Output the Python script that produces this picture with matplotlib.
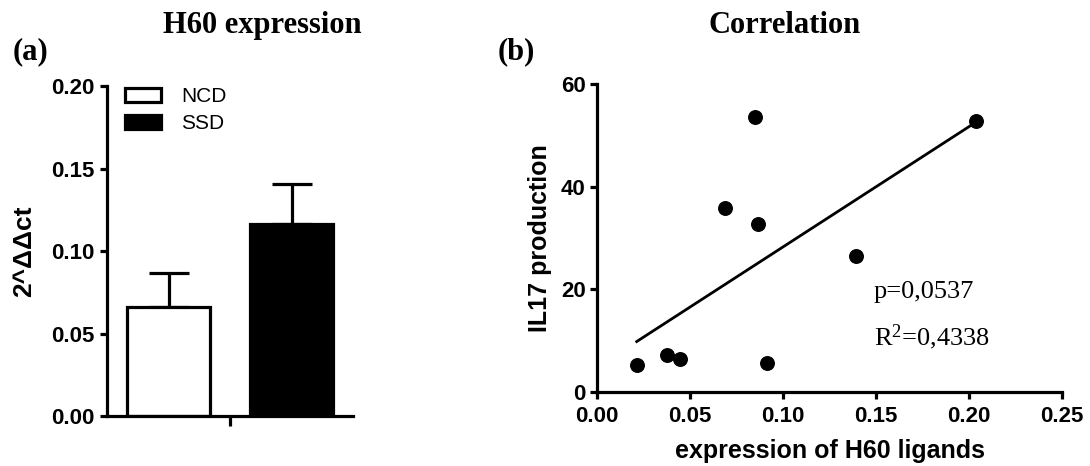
import numpy as np
import matplotlib
matplotlib.use('Agg')
import matplotlib.pyplot as plt
from matplotlib.patches import Patch

# ---- data ----
groups = ['NCD', 'SSD']
group_means = [0.066, 0.1164]
group_sem = [0.0207, 0.0242]
group_colors = ['white', 'black']

h60_expr = [0.0215, 0.0376, 0.0450, 0.0916, 0.0692, 0.0864, 0.0849, 0.1394, 0.2036]
il17_prod = [5.3, 7.3, 6.4, 5.6, 35.8, 32.7, 53.6, 26.4, 52.7]

left_yticks = [0.00, 0.05, 0.10, 0.15, 0.20]
right_xticks = [0.00, 0.05, 0.10, 0.15, 0.20, 0.25]
right_yticks = [0, 20, 40, 60]

plt.rcParams['font.family'] = ['Liberation Sans', 'DejaVu Sans']
plt.rcParams['mathtext.fontset'] = 'custom'
plt.rcParams['mathtext.rm'] = 'Liberation Serif'
plt.rcParams['mathtext.it'] = 'Liberation Serif:italic'

W, H = 1090, 466
fig = plt.figure(figsize=(W / 100, H / 100), dpi=100)


def frac(x0, y0, x1, y1):
    return [x0 / W, 1 - y1 / H, (x1 - x0) / W, (y1 - y0) / H]


LW = 2.3

def style(ax):
    for s in ['top', 'right']:
        ax.spines[s].set_visible(False)
    for s in ['left', 'bottom']:
        ax.spines[s].set_linewidth(LW)
    ax.tick_params(direction='out', length=5, width=LW, labelsize=16)
    for lab in ax.get_xticklabels() + ax.get_yticklabels():
        lab.set_fontweight('bold')

# ---- left panel ----
ax1 = fig.add_axes(frac(107, 86, 353, 416))
pos = np.arange(len(groups))
bars = ax1.bar(pos, group_means, width=0.67, color=group_colors,
               edgecolor='black', linewidth=LW, zorder=2)
ax1.errorbar(pos, group_means, yerr=[[0, 0], group_sem], fmt='none',
             ecolor='black', elinewidth=LW, capsize=14.5, capthick=LW, zorder=1)
ax1.set_xlim(-0.5, 1.5)
ax1.set_ylim(0, 0.2)
ax1.set_yticks(left_yticks)
ax1.set_yticklabels([f'{v:.2f}' for v in left_yticks])
ax1.set_xticks([0.5])
ax1.set_xticklabels([''])
style(ax1)
ax1.tick_params(axis='x', length=7)
ax1.tick_params(axis='y', pad=4)

handles = [Patch(facecolor=c, edgecolor='black', linewidth=LW, label=g)
           for g, c in zip(groups, group_colors)]
ax1.legend(handles=handles, loc='upper left', bbox_to_anchor=(0.073, 0.996),
           frameon=False, borderpad=0, borderaxespad=0, fontsize=15,
           handlelength=1.75, handleheight=0.68, handletextpad=0.95,
           labelspacing=0.37)

# ---- right panel ----
ax2 = fig.add_axes(frac(596.7, 84, 1062, 392))
ax2.scatter(h60_expr, il17_prod, s=95, color='black', zorder=3)
slope, intercept = np.polyfit(h60_expr, il17_prod, 1)
xl = np.array([min(h60_expr), max(h60_expr)])
ax2.plot(xl, slope * xl + intercept, color='black', lw=2.0, zorder=2)
ax2.set_xlim(0, 0.25)
ax2.set_ylim(0, 60)
ax2.set_xticks(right_xticks)
ax2.set_xticklabels([f'{v:.2f}' for v in right_xticks])
ax2.set_yticks(right_yticks)
ax2.set_yticklabels([str(v) for v in right_yticks])
style(ax2)
ax2.tick_params(axis='y', pad=3)
ax2.tick_params(axis='x', pad=5)

# ---- texts ----
def ft(x, y, s, **kw):
    fig.text(x / W, 1 - y / H, s, **kw)

ft(163, 33, 'H60 expression', family='Liberation Serif', weight='bold',
   fontsize=22, va='baseline', ha='left')
ft(708, 33, 'Correlation', family='Liberation Serif', weight='bold',
   fontsize=22, va='baseline', ha='left')
ft(13, 59, '(a)', family='Liberation Serif', weight='bold', fontsize=22,
   va='baseline', ha='left')
ft(498, 59, '(b)', family='Liberation Serif', weight='bold', fontsize=22,
   va='baseline', ha='left')

ft(24, 251, '2^ΔΔct', weight='bold', fontsize=19, rotation=90,
   ha='center', va='center')
ft(540, 238, 'IL17 production', weight='bold', fontsize=18, rotation=90,
   ha='center', va='center')
ft(830, 458, 'expression of H60 ligands', weight='bold', fontsize=18,
   ha='center', va='baseline')

ft(874, 298, 'p=0,0537', family='Liberation Serif', fontsize=19,
   ha='left', va='baseline')
ft(874, 345, r'R$^{2}$=0,4338', family='Liberation Serif', fontsize=19,
   ha='left', va='baseline')

fig.savefig('out.png', dpi=100)
